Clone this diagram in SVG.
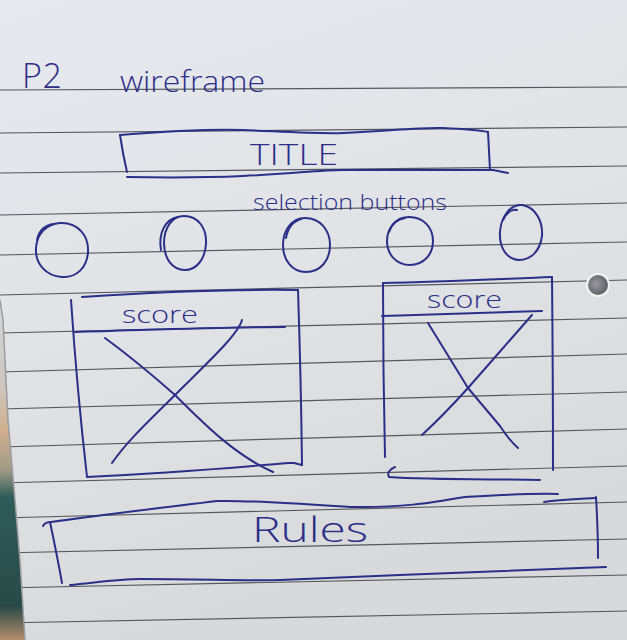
<svg xmlns="http://www.w3.org/2000/svg" width="627" height="640" viewBox="0 0 627 640">
  <defs>
    <linearGradient id="paper" x1="0" y1="0" x2="0.3" y2="1">
      <stop offset="0" stop-color="#e6e9ee"/>
      <stop offset="0.5" stop-color="#e1e3e6"/>
      <stop offset="1" stop-color="#d8d9da"/>
    </linearGradient>
    <linearGradient id="desk" x1="0" y1="300" x2="0" y2="640" gradientUnits="userSpaceOnUse">
      <stop offset="0" stop-color="#d3d6da"/>
      <stop offset="0.25" stop-color="#cdc6bf"/>
      <stop offset="0.38" stop-color="#d2b08f"/>
      <stop offset="0.5" stop-color="#9f9a86"/>
      <stop offset="0.58" stop-color="#2f5c58"/>
      <stop offset="0.9" stop-color="#284a47"/>
      <stop offset="1" stop-color="#b48d6c"/>
    </linearGradient>
    <radialGradient id="hole" cx="0.4" cy="0.45" r="0.6">
      <stop offset="0" stop-color="#9a9aa0"/>
      <stop offset="1" stop-color="#5e5f65"/>
    </radialGradient>
    <style>
      .rule { stroke:#55585c; stroke-width:1.2; fill:none; }
      .ink { fill:none; stroke:#2b2f88; stroke-width:2; stroke-linecap:round; stroke-linejoin:round; }
      .hand { fill:#2b2f88; font-family:"Open Sans","DejaVu Sans",sans-serif; font-weight:300; }
    </style>
  </defs>

  <!-- sheet of lined paper -->
  <rect width="627" height="640" fill="url(#paper)"/>
  <g id="ruling">
    <path class="rule" d="M0,90 L627,87"/>
    <path class="rule" d="M0,133 L627,127"/>
    <path class="rule" d="M0,173 L627,166"/>
    <path class="rule" d="M0,215 L627,203"/>
    <path class="rule" d="M0,255 L627,242"/>
    <path class="rule" d="M0,295 L627,280"/>
    <path class="rule" d="M0,333 L627,318"/>
    <path class="rule" d="M0,372 L627,354"/>
    <path class="rule" d="M0,409 L627,392"/>
    <path class="rule" d="M0,447 L627,429"/>
    <path class="rule" d="M0,483 L627,466"/>
    <path class="rule" d="M0,518 L627,502"/>
    <path class="rule" d="M0,553 L627,539"/>
    <path class="rule" d="M0,588 L627,575"/>
    <path class="rule" d="M0,623 L627,611"/>
  </g>

  <!-- desk showing past the left edge of the sheet -->
  <polygon points="0,300 3,320 8,420 15,500 20,560 25,640 0,640" fill="url(#desk)"/>
  <path d="M0,300 L3,320 L8,420 L15,500 L20,560 L25,640" stroke="#9a9ca0" stroke-width="1.5" fill="none"/>

  <!-- punched hole -->
  <circle cx="598" cy="285" r="12" fill="#f3f4f5"/>
  <circle cx="598" cy="285" r="10" fill="url(#hole)"/>

  <!-- header -->
  <g id="header">
    <text class="hand" x="22" y="88" font-size="34" textLength="40" lengthAdjust="spacing">P2</text>
    <text class="hand" x="120" y="92" font-size="30" textLength="145" lengthAdjust="spacingAndGlyphs">wireframe</text>
  </g>

  <!-- title bar -->
  <g id="title">
    <path class="ink" d="M120,135 C170,131 210,129 243,130 C290,132 320,134 343,133 C390,131 420,127 443,128 C465,129 478,130 488,132"/>
    <path class="ink" d="M120,135 Q123,155 127,172"/>
    <path class="ink" d="M488,132 Q489,150 490,170"/>
    <path class="ink" d="M127,177 C180,178 220,177 243,176 C290,174 320,170 343,170 C400,170 460,170 493,170 L508,173"/>
    <text class="hand" x="250" y="165" font-size="30" textLength="88" lengthAdjust="spacingAndGlyphs">TITLE</text>
  </g>

  <!-- selection buttons -->
  <g id="selection">
    <text class="hand" x="253" y="210" font-size="22" textLength="194" lengthAdjust="spacingAndGlyphs">selection buttons</text>
    <g id="button-1">
      <path class="ink" d="M60,223 C78,222 89,236 88,252 C87,268 76,278 62,277 C46,276 35,264 36,248 C37,234 46,224 60,223 Z"/>
      <path class="ink" d="M37,240 C39,230 45,225 54,224"/>
    </g>
    <g id="button-2">
      <path class="ink" d="M184,216 C198,216 207,228 206,244 C205,260 196,270 185,270 C172,270 164,258 164,243 C164,228 172,216 184,216 Z"/>
      <path class="ink" d="M161,250 C158,232 166,219 178,217"/>
    </g>
    <g id="button-3">
      <path class="ink" d="M305,218 C320,218 330,230 330,245 C330,261 320,272 306,272 C292,272 283,260 283,245 C283,230 292,218 305,218 Z"/>
      <path class="ink" d="M286,238 C288,227 294,221 301,219"/>
    </g>
    <g id="button-4">
      <path class="ink" d="M409,217 C424,217 433,228 433,241 C433,255 423,265 410,265 C396,265 387,254 387,241 C387,228 396,217 409,217 Z"/>
      <path class="ink" d="M389,232 C392,223 398,219 405,218"/>
    </g>
    <g id="button-5">
      <path class="ink" d="M522,205 C536,207 543,222 542,236 C540,251 531,260 519,260 C506,259 499,247 500,232 C501,217 510,204 522,205 Z"/>
      <path class="ink" d="M503,220 C507,212 512,209 517,210"/>
    </g>
  </g>

  <!-- left score panel -->
  <g id="panel-left">
    <path class="ink" d="M82,297 C140,293 220,289 298,290"/>
    <path class="ink" d="M71,300 Q77,390 87,477"/>
    <path class="ink" d="M298,290 Q301,380 302,465"/>
    <path class="ink" d="M87,477 C150,474 230,468 288,463 L294,463 L302,465"/>
    <path class="ink" d="M75,332 C150,330 220,327 285,327"/>
    <text class="hand" x="122" y="323" font-size="24" textLength="76" lengthAdjust="spacingAndGlyphs">score</text>
    <path class="ink" d="M105,338 C135,360 158,380 175,395 C205,425 235,455 273,472"/>
    <path class="ink" d="M242,320 C238,335 205,365 175,395 C150,420 128,440 112,463"/>
  </g>

  <!-- right score panel -->
  <g id="panel-right">
    <path class="ink" d="M383,283 C440,282 500,279 552,277"/>
    <path class="ink" d="M383,283 Q383,370 385,457"/>
    <path class="ink" d="M552,277 Q553,380 553,470"/>
    <path class="ink" d="M382,316 C440,314 500,312 542,311"/>
    <text class="hand" x="427" y="308" font-size="24" textLength="75" lengthAdjust="spacingAndGlyphs">score</text>
    <path class="ink" d="M428,323 L468,388 L500,426 Q509,440 518,448"/>
    <path class="ink" d="M532,315 C510,340 490,363 468,388 C450,408 435,423 422,435"/>
    <path class="ink" d="M395,467 Q386,471 389,477 C430,480 500,479 540,480"/>
  </g>

  <!-- rules bar -->
  <g id="rules">
    <path class="ink" d="M43,526 Q45,522 51,522 C100,515 160,508 217,501 C250,500 290,503 350,507 C400,508 430,503 465,497 C500,495 530,493 558,494"/>
    <path class="ink" d="M544,502 C555,500 575,499 596,498"/>
    <path class="ink" d="M596,497 Q598,530 598,558"/>
    <path class="ink" d="M50,522 Q57,555 62,583"/>
    <path class="ink" d="M70,585 C100,582 120,579 140,579 C200,579 250,581 280,580 C330,578 370,576 400,575 C480,572 560,569 606,567"/>
    <text class="hand" x="252" y="542" font-size="34" textLength="116" lengthAdjust="spacingAndGlyphs">Rules</text>
  </g>
</svg>
